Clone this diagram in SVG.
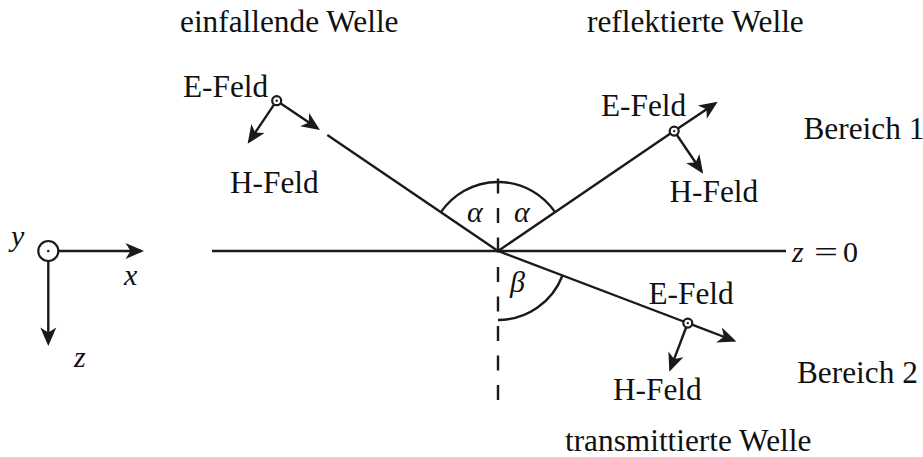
<svg xmlns="http://www.w3.org/2000/svg" width="923" height="457" viewBox="0 0 923 457">
<style>
  .ln { stroke: #1a1a1a; stroke-width: 2.4; fill: none; }
  .ar { stroke: #1a1a1a; stroke-width: 2.4; fill: none; marker-end: url(#ah); }
  .dash { stroke: #1a1a1a; stroke-width: 2.4; fill: none; stroke-dasharray: 15 14.5; }
  .pt { fill: #ffffff; stroke: #1a1a1a; stroke-width: 2.2; }
  .dot { fill: #1a1a1a; }
  .t { font-family: "Liberation Serif", "Times New Roman", serif; font-size: 31.3px; fill: #111111; }
  .m { font-family: "Liberation Serif", "Times New Roman", serif; font-style: italic; font-size: 30px; fill: #111111; }
  .mu { font-family: "Liberation Serif", "Times New Roman", serif; font-size: 30px; fill: #111111; }
</style>
<defs>
  <marker id="ah" viewBox="-20 -9 21 18" refX="-3" refY="0" markerWidth="21" markerHeight="18" markerUnits="userSpaceOnUse" orient="auto">
    <path d="M0,0 L-18.5,-8 L-13.5,0 L-18.5,8 Z" fill="#1a1a1a"/>
  </marker>
</defs>

<g id="connectors">
  <!-- interface z=0 -->
  <line class="ln" x1="212" y1="251" x2="786" y2="251"/>
  <!-- normal (dashed) -->
  <line class="dash" x1="498" y1="400" x2="498" y2="165"/>
  <!-- incident ray -->
  <line class="ln" x1="327.3" y1="135" x2="498" y2="251"/>
  <!-- reflected ray -->
  <line class="ln" x1="498" y1="251" x2="670.4" y2="133.6"/>
  <!-- transmitted ray -->
  <line class="ln" x1="498" y1="251" x2="683.6" y2="321.5"/>
  <!-- angle arcs -->
  <path class="ln" d="M440.9,212.2 A69,69 0 0 1 555.1,212.2"/>
  <path class="ln" d="M498,320 A69,69 0 0 0 562.5,275.5"/>
</g>

<g id="incident-fields">
  <line class="ar" x1="280.4" y1="103.2" x2="317.5" y2="128.3"/>
  <line class="ar" x1="274.2" y1="104.4" x2="249.3" y2="141.3"/>
  <circle class="pt" cx="276.7" cy="100.7" r="4.5"/>
  <circle class="dot" cx="276.7" cy="100.7" r="1.2"/>
  <text class="t" x="183" y="97">E-Feld</text>
  <text class="t" x="230" y="193">H-Feld</text>
  <text class="t" x="180" y="31.5">einfallende Welle</text>
</g>

<g id="reflected-fields">
  <line class="ar" x1="677.9" y1="128.6" x2="715.2" y2="103.4"/>
  <line class="ar" x1="676.7" y1="134.8" x2="701.5" y2="171.2"/>
  <circle class="pt" cx="674.2" cy="131.1" r="4.5"/>
  <circle class="dot" cx="674.2" cy="131.1" r="1.2"/>
  <text class="t" x="601" y="116">E-Feld</text>
  <text class="t" x="669.5" y="201.5">H-Feld</text>
  <text class="t" x="587" y="31.5">reflektierte Welle</text>
</g>

<g id="transmitted-fields">
  <line class="ar" x1="692" y1="324.7" x2="733.6" y2="340.5"/>
  <line class="ar" x1="686.2" y1="327.3" x2="670.4" y2="368.9"/>
  <circle class="pt" cx="687.8" cy="323.1" r="4.5"/>
  <circle class="dot" cx="687.8" cy="323.1" r="1.2"/>
  <text class="t" x="648.5" y="304">E-Feld</text>
  <text class="t" x="613" y="400">H-Feld</text>
  <text class="t" x="565" y="451">transmittierte Welle</text>
</g>

<g id="regions">
  <text class="t" x="803.5" y="139">Bereich 1</text>
  <text class="t" x="797" y="383">Bereich 2</text>
  <text class="m" x="792" y="261.5">z</text>
  <text class="mu" x="814" y="261.5" textLength="24" lengthAdjust="spacingAndGlyphs">=</text>
  <text class="mu" x="843" y="261.5">0</text>
</g>

<g id="angles">
  <text class="m" x="467" y="221.5">α</text>
  <text class="m" x="514" y="221.5">α</text>
  <text class="m" x="510" y="292">β</text>
</g>

<g id="coordinate-system">
  <line class="ar" x1="58.3" y1="251" x2="141" y2="251"/>
  <line class="ar" x1="48.3" y1="261" x2="48.3" y2="343"/>
  <circle class="pt" cx="48.3" cy="251" r="10"/>
  <circle class="dot" cx="48.3" cy="251" r="1.3"/>
  <text class="m" x="11" y="246">y</text>
  <text class="m" x="124" y="285">x</text>
  <text class="m" x="74" y="366.5">z</text>
</g>
</svg>
